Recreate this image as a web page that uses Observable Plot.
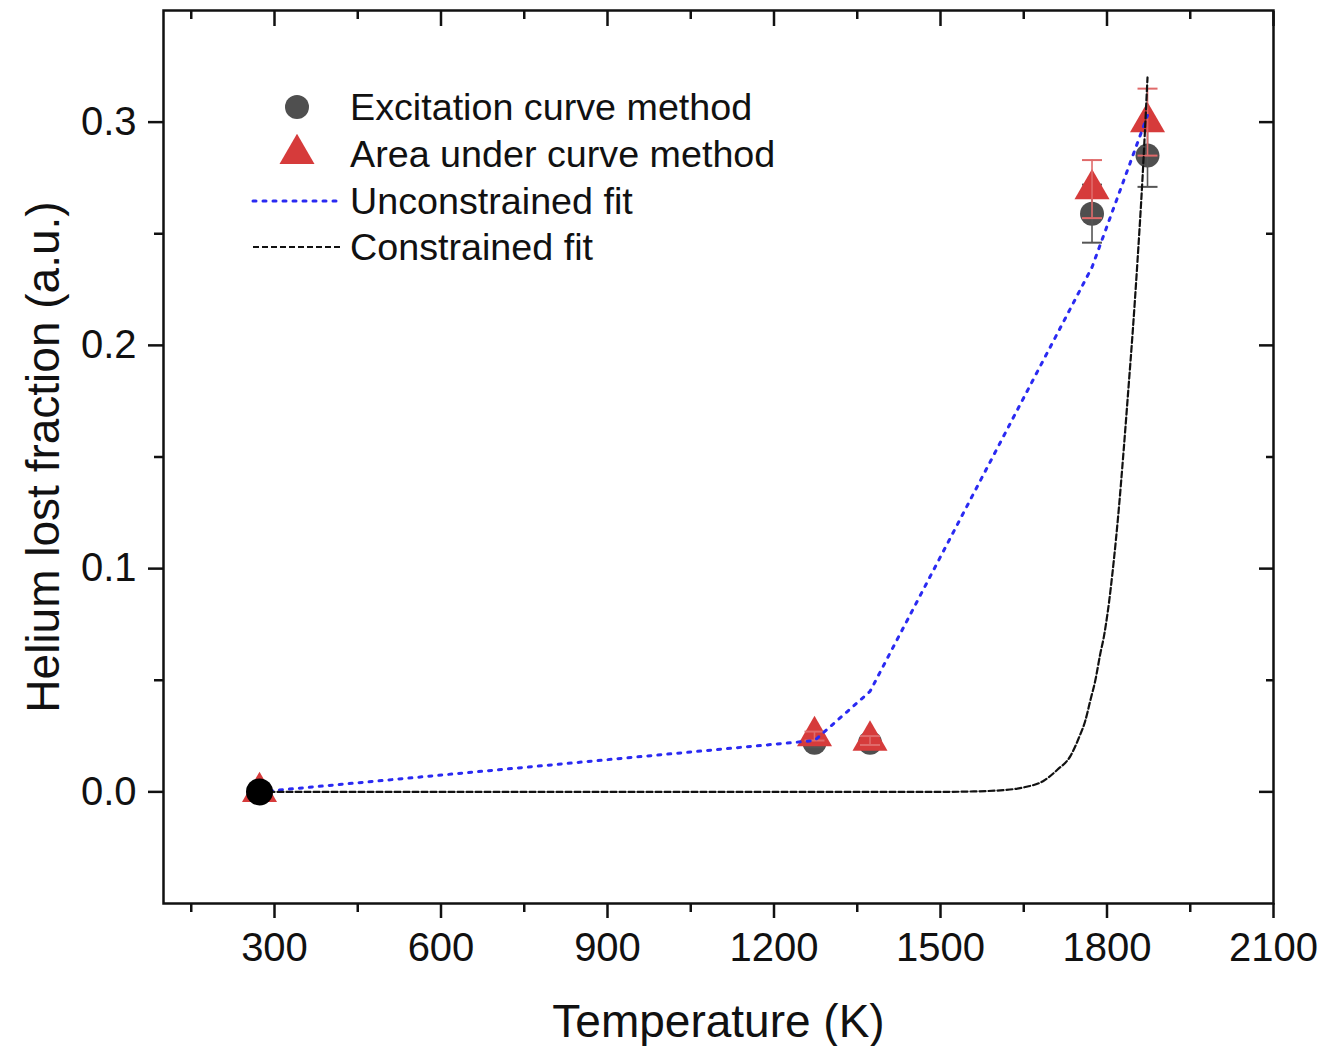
<!DOCTYPE html>
<html>
<head>
<meta charset="utf-8">
<script src="https://cdn.jsdelivr.net/npm/d3@7"></script>
<script src="https://cdn.jsdelivr.net/npm/@observablehq/plot@0.6"></script>
<style>
  html, body { margin: 0; padding: 0; background: white; }
  #wrap { position: relative; width: 1342px; height: 1046px; font-family: 'Liberation Sans', Arial, sans-serif; }
  #legend { position: absolute; left: 0; top: 0; pointer-events: none; }
</style>
</head>
<body>
<div id="wrap"></div>
<script>
// ---- data ----
const temps = [273, 1273, 1373, 1773, 1873];
const excitation = [0, 0.022, 0.022, 0.259, 0.285];
const excitationErr = [0, 0.002, 0.002, 0.013, 0.014];
const area = [0, 0.025, 0.023, 0.270, 0.300];
const areaErr = [0, 0.002, 0.002, 0.013, 0.015];

const refT = [273];
const refY = [0];

const unconT = [273, 1273, 1373, 1773, 1873];
const unconY = [0, 0.023, 0.045, 0.235, 0.303];

const conT = [273, 1500, 1560, 1613, 1650, 1686, 1711, 1734, 1749, 1761, 1770, 1779, 1788, 1794, 1801, 1812, 1821, 1830, 1839, 1846, 1855, 1864, 1873];
const conY = [0, 0, 0.0002, 0.0008, 0.002, 0.005, 0.010, 0.016, 0.024, 0.032, 0.041, 0.050, 0.062, 0.069, 0.080, 0.103, 0.126, 0.153, 0.182, 0.205, 0.238, 0.275, 0.32];

const majorX = [300, 600, 900, 1200, 1500, 1800, 2100];
const minorX = [150, 450, 750, 1050, 1350, 1650, 1950];
const majorY = [0, 0.1, 0.2, 0.3];
const minorY = [0.05, 0.15, 0.25];

const xLabel = "Temperature (K)";
const yLabel = "Helium lost fraction (a.u.)";
const legendLabels = ["Excitation curve method", "Area under curve method", "Unconstrained fit", "Constrained fit"];

// ---- tables ----
const exc = temps.map((T, i) => ({T, v: excitation[i], e: excitationErr[i]}));
const are = temps.map((T, i) => ({T, v: area[i], e: areaErr[i]}));
const excE = exc.filter(d => d.e > 0);
const areE = are.filter(d => d.e > 0);
const ref = refT.map((T, i) => ({T, v: refY[i]}));
const uncon = unconT.map((T, i) => ({T, v: unconY[i]}));
const con = conT.map((T, i) => ({T, v: conY[i]}));

const grayC = "#4f4f4f", redC = "#d63b3b", blueC = "#2a2af2";
const triR = 13;
const capSymbol = {draw(ctx, size) { const w = Math.sqrt(size / Math.PI); ctx.moveTo(-w, 0); ctx.lineTo(w, 0); }};
const blank = () => "";
const sw = 2.5;

const plot = Plot.plot({
  width: 1342, height: 1046,
  marginLeft: 163, marginRight: 69, marginTop: 10, marginBottom: 143,
  style: {fontFamily: "'Liberation Sans', Arial, sans-serif", color: "#111", background: "white", overflow: "visible"},
  x: {domain: [100, 2100]},
  y: {domain: [-0.05, 0.35]},
  marks: [
    // axes
    Plot.axisX({anchor: "bottom", ticks: majorX, tickSize: 15, tickPadding: 14, fontSize: 40, strokeWidth: sw, label: null, tickFormat: d => String(d)}),
    Plot.axisX({anchor: "bottom", ticks: minorX, tickSize: 9, tickFormat: blank, strokeWidth: sw, label: null}),
    Plot.axisX({anchor: "top", ticks: majorX, tickSize: -15, tickFormat: blank, strokeWidth: sw, label: null}),
    Plot.axisX({anchor: "top", ticks: minorX, tickSize: -8, tickFormat: blank, strokeWidth: sw, label: null}),
    Plot.axisY({anchor: "left", ticks: majorY, tickSize: 15, tickPadding: 12, fontSize: 40, strokeWidth: sw, label: null, tickFormat: d3.format(".1f")}),
    Plot.axisY({anchor: "left", ticks: minorY, tickSize: 9, tickFormat: blank, strokeWidth: sw, label: null}),
    Plot.axisY({anchor: "right", ticks: majorY, tickSize: -15, tickFormat: blank, strokeWidth: sw, label: null}),
    Plot.axisY({anchor: "right", ticks: minorY, tickSize: -8, tickFormat: blank, strokeWidth: sw, label: null}),
    Plot.frame({stroke: "#111", strokeWidth: sw}),
    // axis titles
    Plot.text([xLabel], {frameAnchor: "bottom", dy: 119, text: d => d, fontSize: 46, textAnchor: "middle", lineAnchor: "middle", fill: "#111"}),
    Plot.text([yLabel], {frameAnchor: "left", dx: -119, rotate: -90, text: d => d, fontSize: 46, textAnchor: "middle", lineAnchor: "middle", fill: "#111"}),
    // data markers
    Plot.dot(exc, {x: "T", y: "v", r: 12, fill: grayC, stroke: "none"}),
    Plot.ruleX(excE, {x: "T", y1: d => d.v - d.e, y2: d => d.v + d.e, stroke: "#555", strokeWidth: 1.6}),
    Plot.dot(excE, {x: "T", y: d => d.v - d.e, symbol: capSymbol, r: 10, stroke: "#555", strokeWidth: 2, fill: "none"}),
    Plot.dot(excE, {x: "T", y: d => d.v + d.e, symbol: capSymbol, r: 10, stroke: "#555", strokeWidth: 2, fill: "none"}),
    Plot.dot(are, {x: "T", y: "v", r: triR, symbol: "triangle", fill: redC, stroke: "none"}),
    Plot.ruleX(areE, {x: "T", y1: d => d.v - d.e, y2: d => d.v + d.e, stroke: "#e06a6a", strokeWidth: 1.6}),
    Plot.dot(areE, {x: "T", y: d => d.v - d.e, symbol: capSymbol, r: 10, stroke: "#e06a6a", strokeWidth: 2, fill: "none"}),
    Plot.dot(areE, {x: "T", y: d => d.v + d.e, symbol: capSymbol, r: 10, stroke: "#e06a6a", strokeWidth: 2, fill: "none"}),
    // fits
    Plot.line(uncon, {x: "T", y: "v", stroke: blueC, strokeWidth: 3, strokeDasharray: "3,7", strokeLinecap: "round"}),
    Plot.line(con, {x: "T", y: "v", curve: "monotone-x", stroke: "#111", strokeWidth: 2.2, strokeDasharray: "6,3"}),
    // reference point at room temperature
    Plot.dot(ref, {x: "T", y: "v", r: 13.5, fill: "#000", stroke: "none"})
  ]
});

const wrap = document.getElementById("wrap");
wrap.appendChild(plot);

// ---- legend (overlay inside the plot frame) ----
const lg = d3.select(wrap).append("svg").attr("id", "legend").attr("width", 1342).attr("height", 1046);
const rows = [107, 154, 201, 247];
const symX = 297, lineX1 = 253, lineX2 = 340, textX = 350;
lg.append("circle").attr("cx", symX).attr("cy", rows[0]).attr("r", 12).attr("fill", grayC);
lg.append("path").attr("transform", `translate(${symX},${rows[1]})`).attr("d", d3.symbol(d3.symbolTriangle, Math.PI * triR * triR)()).attr("fill", redC);
lg.append("line").attr("x1", lineX1).attr("x2", lineX2).attr("y1", rows[2]).attr("y2", rows[2])
  .attr("stroke", blueC).attr("stroke-width", 3).attr("stroke-dasharray", "3,7").attr("stroke-linecap", "round");
lg.append("line").attr("x1", lineX1).attr("x2", lineX2).attr("y1", rows[3]).attr("y2", rows[3])
  .attr("stroke", "#111").attr("stroke-width", 2.2).attr("stroke-dasharray", "6,3");
legendLabels.forEach((t, i) => {
  lg.append("text").attr("x", textX).attr("y", rows[i]).attr("dy", "0.35em")
    .attr("font-family", "'Liberation Sans', Arial, sans-serif").attr("font-size", 37.7).attr("fill", "#111").text(t);
});
</script>
</body>
</html>
